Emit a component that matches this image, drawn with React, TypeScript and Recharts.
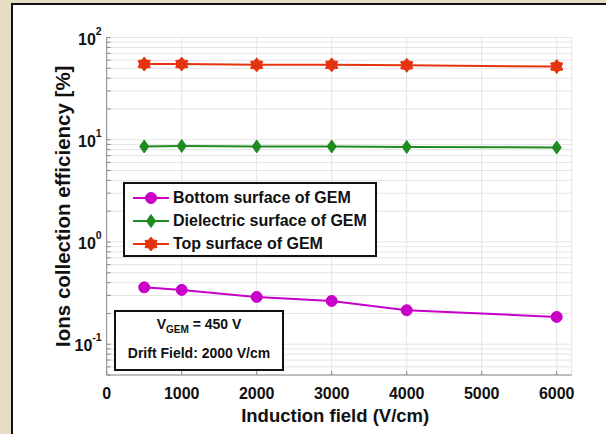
import React from "react";
import { LineChart, Line, XAxis, YAxis, CartesianGrid } from "recharts";

const inductionField = [500, 1000, 2000, 3000, 4000, 6000];
const bottomSurface = [0.36, 0.34, 0.29, 0.265, 0.215, 0.185];
const dielectricSurface = [8.6, 8.7, 8.6, 8.6, 8.5, 8.4];
const topSurface = [55, 55, 54, 54, 53.5, 52];

const xTicks = [0, 1000, 2000, 3000, 4000, 5000, 6000];
const yTicks = [
  0.05, 0.06, 0.07, 0.08, 0.09, 0.1, 0.2, 0.3, 0.4, 0.5, 0.6, 0.7, 0.8, 0.9,
  1, 2, 3, 4, 5, 6, 7, 8, 9, 10, 20, 30, 40, 50, 60, 70, 80, 90, 100,
];

const seriesNames = ["Bottom surface of GEM", "Dielectric surface of GEM", "Top surface of GEM"];
const seriesKeys = ["bottom", "dielectric", "top"];
const seriesColors = ["#c800c8", "#1f8a1f", "#e5330f"];
const seriesShapes = ["circle", "diamond", "hexagram"];

const data = inductionField.map((x, i) => ({
  x,
  bottom: bottomSurface[i],
  dielectric: dielectricSurface[i],
  top: topSurface[i],
}));

const FONT = '"Liberation Sans", Arial, Helvetica, sans-serif';
const AXIS = "#8a8a8a";

function marker(shape: string, cx: number, cy: number, color: string, key?: string) {
  if (shape === "circle") {
    return <circle key={key} cx={cx} cy={cy} r={5.5} fill={color} stroke={color} />;
  }
  if (shape === "diamond") {
    const pts = `${cx},${cy - 6.5} ${cx + 4.5},${cy} ${cx},${cy + 6.5} ${cx - 4.5},${cy}`;
    return <polygon key={key} points={pts} fill={color} stroke={color} />;
  }
  const pts: string[] = [];
  for (let k = 0; k < 12; k++) {
    const a = -Math.PI / 2 + (k * Math.PI) / 6;
    const r = k % 2 === 0 ? 7 : 4.6;
    pts.push(`${cx + r * Math.cos(a)},${cy + r * Math.sin(a)}`);
  }
  return <polygon key={key} points={pts.join(" ")} fill={color} stroke={color} />;
}

function YTick(props: any) {
  const { x, y, payload } = props;
  const v = payload.value;
  const lg = Math.log10(v);
  const exp = Math.round(lg);
  const major = Math.abs(lg - exp) < 1e-6;
  const axisX = x + 5;
  return (
    <g>
      <line x1={axisX} x2={axisX + 4} y1={y} y2={y} stroke={AXIS} />
      {major && (
        <text x={x} y={y + 7} textAnchor="end" fontFamily={FONT} fontWeight={700} fontSize={16} fill="#111">
          10
          <tspan dy={-10} fontSize={10.5}>
            {exp}
          </tspan>
        </text>
      )}
    </g>
  );
}

function XTick(props: any) {
  const { x, y, payload } = props;
  const axisY = y - 12;
  return (
    <g>
      <line x1={x} x2={x} y1={axisY} y2={axisY - 4} stroke={AXIS} />
      <text x={x} y={y + 12} textAnchor="middle" fontFamily={FONT} fontWeight={700} fontSize={16} fill="#111">
        {payload.value}
      </text>
    </g>
  );
}

export default function App() {
  return (
    <div
      style={{
        position: "absolute",
        left: 0,
        top: 0,
        width: 606,
        height: 434,
        background: "#e6ddc4",
        overflow: "hidden",
      }}
    >
      <div
        style={{
          position: "absolute",
          left: 11,
          top: 3,
          width: 700,
          height: 500,
          background: "#fff",
          border: "2px solid #111",
        }}
      />
      <div style={{ position: "absolute", left: 0, top: 0 }}>
        <LineChart width={606} height={434} data={data} margin={{ top: 37.5, right: 34.3, bottom: 29, left: 46.7 }}>
          <CartesianGrid xAxisId="x" yAxisId="y" stroke="#e4e4e4" />
          <XAxis
            xAxisId="x"
            dataKey="x"
            type="number"
            domain={[0, 6200]}
            ticks={xTicks}
            allowDataOverflow
            height={30}
            tickSize={0}
            tickMargin={12}
            tickLine={false}
            stroke={AXIS}
            tick={<XTick />}
            label={{
              content: (p: any) => (
                <text
                  x={p.viewBox.x + p.viewBox.width / 2 - 4}
                  y={p.viewBox.y + 47}
                  textAnchor="middle"
                  fontFamily={FONT}
                  fontWeight={700}
                  fontSize={18.5}
                  fill="#111"
                >
                  Induction field (V/cm)
                </text>
              ),
            }}
          />
          <XAxis
            xAxisId="xt"
            orientation="top"
            type="number"
            domain={[0, 6200]}
            ticks={xTicks}
            allowDataOverflow
            height={0}
            mirror
            tick={false}
            tickSize={4}
            stroke={AXIS}
          />
          <YAxis
            yAxisId="y"
            scale="log"
            domain={[0.05, 100]}
            ticks={yTicks}
            allowDataOverflow
            width={60}
            tickSize={0}
            tickMargin={5}
            tickLine={false}
            stroke={AXIS}
            tick={<YTick />}
            interval={0}
            label={{
              content: (p: any) => {
                const cx = p.viewBox.x + 15.5;
                const cy = p.viewBox.y + p.viewBox.height / 2;
                return (
                  <text
                    x={cx}
                    y={cy}
                    transform={`rotate(-90, ${cx}, ${cy})`}
                    textAnchor="middle"
                    dominantBaseline="central"
                    fontFamily={FONT}
                    fontWeight={700}
                    fontSize={20.5}
                    fill="#111"
                  >
                    Ions collection efficiency [%]
                  </text>
                );
              },
            }}
          />
          <YAxis
            yAxisId="yr"
            orientation="right"
            scale="log"
            domain={[0.05, 100]}
            ticks={yTicks}
            allowDataOverflow
            width={0}
            mirror
            tick={false}
            tickSize={4}
            interval={0}
            stroke={AXIS}
          />
          {seriesKeys.map((k, si) => (
            <Line
              key={k}
              xAxisId="x"
              yAxisId="y"
              dataKey={k}
              stroke={seriesColors[si]}
              strokeWidth={2}
              isAnimationActive={false}
              activeDot={false}
              dot={(p: any) => marker(seriesShapes[si], p.cx, p.cy, seriesColors[si], `${k}-${p.index}`)}
            />
          ))}
        </LineChart>
      </div>
      <div
        style={{
          position: "absolute",
          left: 123,
          top: 182,
          width: 250,
          height: 71,
          border: "2px solid #111",
          background: "#fff",
          fontFamily: FONT,
          fontWeight: 700,
          fontSize: 16,
          color: "#111",
        }}
      >
        {seriesNames.map((name, i) => (
          <div key={name} style={{ position: "absolute", left: 6, top: 3 + i * 23, height: 22, display: "flex", alignItems: "center" }}>
            <svg width={40} height={22} style={{ display: "block" }}>
              <line x1={2} x2={38} y1={11} y2={11} stroke={seriesColors[i]} strokeWidth={2} />
              {marker(seriesShapes[i], 20, 11, seriesColors[i])}
            </svg>
            <span style={{ marginLeft: 2, whiteSpace: "nowrap" }}>{name}</span>
          </div>
        ))}
      </div>
      <div
        style={{
          position: "absolute",
          left: 114,
          top: 310,
          width: 166,
          height: 57,
          border: "2px solid #111",
          background: "#fff",
          fontFamily: FONT,
          fontWeight: 700,
          fontSize: 14,
          color: "#111",
          textAlign: "center",
        }}
      >
        <div style={{ marginTop: 3, lineHeight: "18px" }}>
          V<sub style={{ fontSize: 10 }}>GEM</sub> = 450 V
        </div>
        <div style={{ marginTop: 5, lineHeight: "18px" }}>Drift Field: 2000 V/cm</div>
      </div>
    </div>
  );
}
